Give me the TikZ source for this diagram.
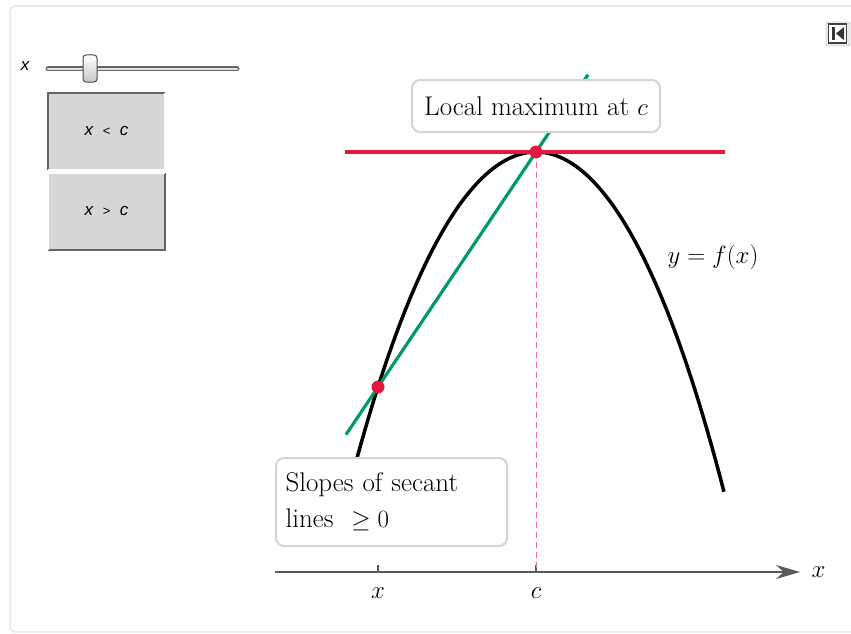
\documentclass[tikz,border=0pt]{standalone}
\usepackage{fontspec}
\usepackage{amsmath}
\usepackage{amssymb}
\usetikzlibrary{positioning, arrows.meta, calc}
\newfontfamily\uifont{Liberation Sans}
\definecolor{crimsn}{RGB}{225,25,65}
\definecolor{secgrn}{RGB}{0,155,100}
\definecolor{dashpk}{RGB}{240,110,150}
\definecolor{btnfill}{RGB}{214,214,214}
\definecolor{btnedge}{RGB}{100,100,100}
\definecolor{framegr}{RGB}{236,236,236}
\newcommand{\relsym}[1]{{\fontsize{13}{15}\selectfont #1}}

\begin{document}
\begin{tikzpicture}[
    x=1pt, y=-1pt,
    lbl/.style = {font=\fontsize{25}{30}\selectfont},
    txt/.style = {font=\fontsize{27}{36}\selectfont},
    callout/.style = {draw=black!17, line width=2pt, fill=white,
                      rounded corners=8pt, inner sep=9pt, txt},
    button/.style = {fill=btnfill, minimum width=117pt, minimum height=77pt,
                     inner sep=0pt, font=\uifont\fontsize{17}{19}\selectfont},
    curve/.style = {line width=3.5pt, black},
    tangent/.style = {line width=3.2pt, crimsn},
    secant/.style = {line width=3.2pt, secgrn},
    axis/.style = {line width=1.3pt, black!65},
  ]
    \useasboundingbox (0,0) rectangle (851,634);
    % outer panel
    \draw[framegr, line width=2pt, rounded corners=6pt] (10,6) rectangle (870,632);

    % slider and buttons
    \node[font=\uifont\itshape\fontsize{17}{19}\selectfont] (xctl) at (25,66) {x};
    \draw[line width=5pt, line cap=round, black!60] (48,69) -- (237,69);
    \draw[line width=2.5pt, line cap=round, black!12] (48,69) -- (237,69);
    \node[draw=black!70, line width=1pt, rounded corners=3pt, top color=white,
          bottom color=black!22, minimum width=14pt, minimum height=27pt,
          inner sep=0pt] (knob) at (90,68.5) {};
    \node[button] (less) at (106.5,131.5) {\raisebox{-3pt}{\textit{x} \ \relsym{<} \ \textit{c}}};
    \node[button] (more) at (106.5,211.5) {\raisebox{-3pt}{\textit{x} \ \relsym{>} \ \textit{c}}};
    \draw[btnedge, line width=2.5pt] (less.south west) |- (less.north east);
    \draw[white, line width=2pt] (less.north east) |- (less.south west);
    \draw[btnedge, line width=2.5pt] (more.south west) -| (more.north east);
    \draw[white, line width=2pt] (more.south west) |- (more.north east);

    % reset icon
    \draw[black!35, fill=black!8, rounded corners=2pt] (826,22) rectangle (850,46);
    \draw[black!75, fill=white, line width=1.5pt] (828.5,24) rectangle (846.5,43);
    \fill[black!80] (832,27) rectangle (835,40);
    \fill[black!80] (844,27) -- (836,33.5) -- (844,40) -- cycle;

    % points
    \coordinate (c) at (536,152);
    \coordinate (p) at (378,387);

    % axis
    \coordinate (axL) at (275,572);
    \coordinate (axR) at (800,572);
    \draw[axis, -{Stealth[length=24pt, width=14pt]}] (axL) -- (axR);
    \node[lbl, right=8pt of axR] (xname) {$x$};
    \draw[axis] (p |- axL) -- ++(0,-7);
    \draw[axis] (c |- axL) -- ++(0,-7);
    \node[lbl, below=12pt of p |- axL] (xtick) {$x$};
    \node[lbl, below=12pt of c |- axL] (ctick) {$c$};
    \draw[dashpk, line width=1pt, dash pattern=on 6pt off 4pt] (c) -- (c |- axL);

    % function
    \draw[curve] plot[domain=-1.79:1.88, samples=90, variable=\t]
      ({536+100*\t}, {152+89.05*\t*\t+2.02*\t*\t*\t*\t});
    \node[lbl] (fname) at (713,257) {$y = f(x)$};

    % tangent and secant
    \draw[tangent] ($(c)+(-191,0)$) -- ($(c)+(189,0)$);
    \draw[secant] ($(p)!-0.2025!(c)$) -- ($(p)!1.329!(c)$);
    \fill[crimsn] (c) circle[radius=6.5pt];
    \fill[crimsn] (p) circle[radius=6.5pt];

    % labels
    \node[callout, minimum width=248pt, minimum height=52pt] (maxbox)
      at (536,106) {Local maximum at $c$};
    \node[callout, minimum width=231pt, minimum height=88pt, text width=212pt,
          align=left] (slopebox) at (391.5,502)
      {Slopes of secant\\ lines \ $\geq 0$};
  \end{tikzpicture}
\end{document}
